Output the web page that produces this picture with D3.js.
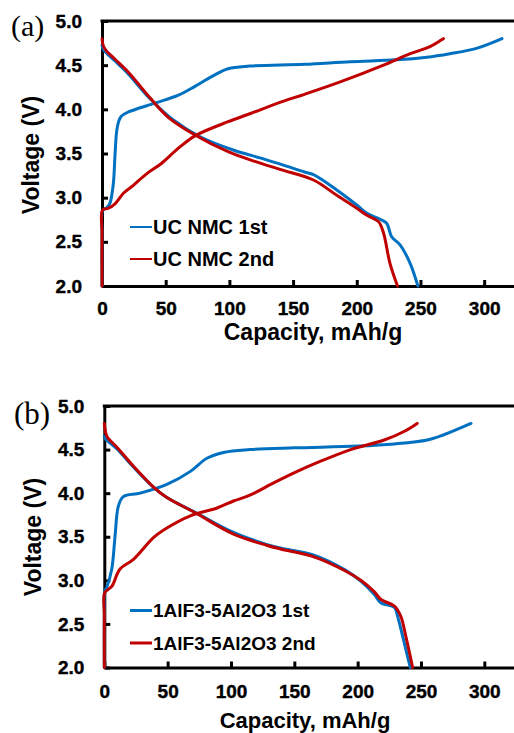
<!DOCTYPE html>
<html>
<head>
<meta charset="utf-8">
<script src="https://cdn.jsdelivr.net/npm/d3@7"></script>
<style>
  html, body { margin: 0; padding: 0; background: #fff; }
  svg { display: block; }
</style>
</head>
<body>
<svg id="chart" width="514" height="733"></svg>
<script>
// ---- data: [capacity (mAh/g), voltage (V)] ----
const xTicks = [0, 50, 100, 150, 200, 250, 300];
const yTicks = [2.0, 2.5, 3.0, 3.5, 4.0, 4.5, 5.0];

// (a) uncoated NMC
const ucCharge1 = [[0,2.0],[0,2.6],[0.4,2.85],[4,2.89],[6.3,2.94],[8.9,3.16],[10.2,3.48],[11.5,3.75],[13,3.86],[15,3.92],[20.7,3.97],
  [41.6,4.07],[60,4.16],[73,4.26],[86,4.37],[99,4.46],[116,4.49],[159,4.51],[195,4.54],[231,4.56],[255,4.59],[273,4.63],[294,4.69],[314,4.80]];
const ucDischarge1 = [[0,4.72],[1,4.68],[3,4.645],[10,4.55],[19.4,4.42],[37.7,4.12],[56,3.88],[77,3.69],[103,3.54],[124,3.45],[140,3.38],[159,3.29],
  [166,3.26],[184,3.09],[200,2.917],[208,2.823],[218,2.758],[223.5,2.71],[227.4,2.558],[234,2.465],[241.8,2.26],[248,2.0]];
const ucCharge2 = [[0,2.0],[0,2.6],[0.4,2.86],[5,2.88],[10.2,2.93],[16.8,3.05],[24.6,3.14],[35,3.27],[46.9,3.39],[60,3.56],[73,3.70],
  [99,3.86],[116,3.95],[142,4.09],[159,4.17],[187,4.31],[221,4.50],[242,4.63],[257.5,4.71],[268,4.80]];
const ucDischarge2 = [[0,4.80],[1,4.72],[3,4.67],[10,4.57],[20.7,4.42],[37.7,4.13],[52,3.91],[73,3.71],[99,3.52],[120,3.41],[139.7,3.32],
  [166,3.20],[184,3.03],[200,2.88],[208,2.80],[217,2.73],[221,2.60],[226,2.26],[232,2.0]];

// (b) 1AlF3-5Al2O3 coated
const ctCharge1 = [[0,2.0],[0,2.6],[0.4,2.88],[1.9,2.92],[5.9,3.13],[8.5,3.51],[11.1,3.85],[15,3.96],[28.3,4.00],[49.4,4.10],[68,4.25],
  [81,4.40],[95,4.47],[115,4.50],[150,4.52],[200,4.54],[229,4.565],[255,4.61],[268,4.67],[289.5,4.80]];
const ctDischarge1 = [[0,4.65],[1,4.62],[2.5,4.60],[9.8,4.51],[23,4.30],[38.8,4.07],[49.4,3.95],[71.8,3.78],[102,3.55],[128.6,3.41],[139,3.37],
  [165.5,3.29],[190,3.12],[202.5,2.99],[213,2.84],[218.4,2.74],[229,2.69],[231.5,2.59],[235.5,2.36],[241.5,2.0]];
const ctCharge2 = [[0,2.0],[0,2.6],[0.4,2.86],[5.9,2.93],[12.4,3.13],[23,3.24],[38.8,3.49],[49.4,3.60],[67.9,3.74],[89,3.83],[102,3.91],
  [115.4,3.98],[134,4.12],[152.3,4.25],[168,4.35],[194.5,4.50],[221,4.61],[237,4.71],[247,4.80]];
const ctDischarge2 = [[0,4.80],[1,4.70],[2.5,4.64],[9.8,4.53],[23,4.31],[38.8,4.07],[49.4,3.95],[71.8,3.775],[102,3.53],[128.6,3.40],
  [139,3.36],[165.5,3.27],[190,3.11],[202.5,3.00],[213,2.87],[218.4,2.78],[229,2.705],[234,2.59],[238,2.36],[243.4,2.0]];

const ucNames = ["UC NMC 1st", "UC NMC 2nd"];
const ctNames = ["1AlF3-5Al2O3 1st", "1AlF3-5Al2O3 2nd"];

const BLUE = "#0070C0", RED = "#C00000";
const SANS = '"Liberation Sans", Arial, sans-serif';
const SERIF = '"Liberation Serif", "Times New Roman", serif';

const svg = d3.select("#chart");

function panel(cfg) {
  const x = d3.scaleLinear().domain([0, 325]).range([cfg.left, cfg.right]);
  const y = d3.scaleLinear().domain([2, 5]).range([cfg.bottom, cfg.top]);
  const g = svg.append("g");

  // axes with inward ticks
  const xa = g.append("g").attr("transform", `translate(0,${cfg.bottom})`)
    .call(d3.axisBottom(x).tickValues(xTicks).tickFormat(d3.format("d"))
      .tickSizeInner(-6).tickSizeOuter(0).tickPadding(cfg.xPad));
  const ya = g.append("g").attr("transform", `translate(${cfg.left},0)`)
    .call(d3.axisLeft(y).tickValues(yTicks).tickFormat(d3.format(".1f"))
      .tickSizeInner(-6).tickSizeOuter(0).tickPadding(cfg.yPad));
  [xa, ya].forEach(a => {
    a.attr("font-family", SANS).attr("font-size", 19).attr("font-weight", "bold");
    a.select(".domain").attr("stroke", "#000").attr("stroke-width", 3);
    a.selectAll(".tick line").attr("stroke", "#000").attr("stroke-width", 3);
    a.selectAll(".tick text").attr("fill", "#000")
      .attr("stroke", "#000").attr("stroke-width", 0.4);
  });
  // top frame line
  g.append("line").attr("x1", cfg.left - 1.5).attr("x2", cfg.right)
    .attr("y1", cfg.top).attr("y2", cfg.top)
    .attr("stroke", "#000").attr("stroke-width", 3);

  // curves
  const line = d3.line().x(d => x(d[0])).y(d => y(d[1])).curve(d3.curveCatmullRom.alpha(0.5));
  cfg.series.forEach(s => {
    g.append("path").datum(s.data).attr("d", line)
      .attr("fill", "none").attr("stroke", s.color).attr("stroke-width", 3)
      .attr("stroke-linejoin", "round").attr("stroke-linecap", "round");
  });

  // legend
  cfg.names.forEach((name, i) => {
    const ly = cfg.legY[i];
    g.append("line").attr("x1", 130).attr("x2", 152).attr("y1", ly).attr("y2", ly)
      .attr("stroke", i === 0 ? BLUE : RED).attr("stroke-width", cfg.legW);
    g.append("text").attr("x", 153).attr("y", ly).attr("dy", "0.36em")
      .attr("font-family", SANS).attr("font-weight", "bold")
      .attr("font-size", cfg.legFont).attr("fill", "#000").text(name);
  });

  // axis titles
  g.append("text").attr("x", cfg.xTitleX).attr("y", cfg.xTitleY).attr("text-anchor", "middle")
    .attr("font-family", SANS).attr("font-weight", "bold").attr("font-size", cfg.xTitleFont)
    .attr("fill", "#000").text("Capacity, mAh/g");
  g.append("text").attr("transform", `translate(${cfg.yTitleX},${cfg.yTitleY}) rotate(-90)`)
    .attr("text-anchor", "middle")
    .attr("font-family", SANS).attr("font-weight", "bold").attr("font-size", 23)
    .attr("fill", "#000").text("Voltage (V)");

  // panel tag
  g.append("text").attr("x", cfg.tagX).attr("y", cfg.tagY)
    .attr("font-family", SERIF).attr("font-size", cfg.tagFont).attr("fill", "#000").text(cfg.tag);
}

panel({
  left: 102, right: 516, top: 21, bottom: 286, xPad: 16, yPad: 20,
  series: [
    { data: ucCharge1, color: BLUE }, { data: ucDischarge1, color: BLUE },
    { data: ucCharge2, color: RED }, { data: ucDischarge2, color: RED }
  ],
  names: ucNames, legY: [227, 259], legW: 2, legFont: 20,
  xTitleX: 313, xTitleY: 340, xTitleFont: 23, yTitleX: 39, yTitleY: 155,
  tag: "(a)", tagX: 11, tagY: 36, tagFont: 30
});

panel({
  left: 104.3, right: 516, top: 406, bottom: 667.5, xPad: 17, yPad: 20,
  series: [
    { data: ctCharge1, color: BLUE }, { data: ctDischarge1, color: BLUE },
    { data: ctCharge2, color: RED }, { data: ctDischarge2, color: RED }
  ],
  names: ctNames, legY: [610.5, 643], legW: 3, legFont: 19,
  xTitleX: 305, xTitleY: 728, xTitleFont: 22, yTitleX: 41, yTitleY: 537,
  tag: "(b)", tagX: 14, tagY: 424, tagFont: 31
});
</script>
</body>
</html>
